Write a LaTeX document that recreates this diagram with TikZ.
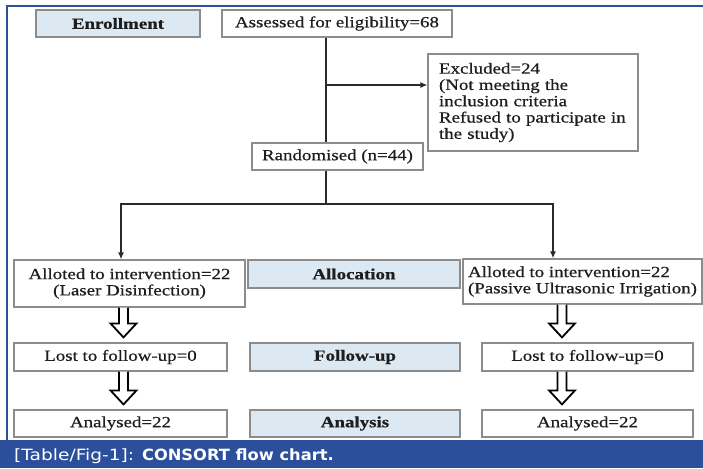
\documentclass[tikz,border=0pt]{standalone}
\usepackage{fontspec}
\setmainfont{Liberation Serif}[FakeStretch=1.22, FakeBold=0.6]
\newfontfamily\capfont{DejaVu Sans}[FakeStretch=1.2]
\newfontfamily\capbfont{DejaVu Sans}[FakeStretch=1.05]
\usetikzlibrary{arrows.meta,calc}
\definecolor{boxline}{HTML}{8C8C8C}
\definecolor{lblue}{HTML}{DCE8F2}
\definecolor{frameblue}{HTML}{2B4F9B}
\definecolor{txt}{HTML}{1E1E1E}
\definecolor{connc}{HTML}{2A2A2A}
\tikzset{
  box/.style={draw=boxline, line width=1.2pt, fill=white, text=txt, inner sep=0pt,
    font=\fontsize{15.5}{16.3}\selectfont},
  stage/.style={box, fill=lblue, font=\fontsize{15.5}{16.3}\selectfont\bfseries},
  conn/.style={draw=connc, line width=1.4pt},
  arr/.style={conn, -{Latex[length=7pt,width=6pt]}},
  harrow/.style={draw=black, line width=1.8pt, fill=white, line join=miter},
}
\newcommand\hollowarr[3]{%
  \filldraw[harrow] let \p1=(#1), \p2=(#2.south), \p3=(#3.north) in
   (\x1-4.5pt,\y2) -- (\x1-4.5pt,\y3+19pt) -- (\x1-13pt,\y3+19pt) -- (\x1,\y3+5pt)
   -- (\x1+13pt,\y3+19pt) -- (\x1+4.5pt,\y3+19pt) -- (\x1+4.5pt,\y2);}
\begin{document}
\begin{tikzpicture}[x=1pt,y=-1pt]
\useasboundingbox (0,0) rectangle (703,468);
\fill[white] (0,0) rectangle (703,468);
% frame and caption band
\draw[frameblue, line width=1.5pt] (7,440) -- (7,6) -- (703,6);
\fill[frameblue] (0,440) rectangle (703,468);
\node[anchor=base west, text=white, inner sep=0pt, font=\capfont\fontsize{15.5}{17}\selectfont] (cap) at (14,460)
  {[Table/Fig-1]: {\capbfont\bfseries CONSORT flow chart.}};
% helper coordinates
\coordinate (sp) at (326,0);
\coordinate (ex) at (326,85);
\coordinate (br) at (326,204);
\coordinate (bl) at (121,204);
\coordinate (bR) at (553,204);
\coordinate (hl) at (123.5,0);
\coordinate (hr) at (562,0);
% nodes
\node[stage, minimum width=164pt, minimum height=27pt] (enr) at (118,23.5) {Enrollment};
\node[box, minimum width=230pt, minimum height=27pt] (ass) at (337,23.5) {Assessed for eligibility=68};
\node[box, text width=188pt, inner xsep=11pt, minimum height=97pt, align=left] (exc) at (533,102.5)
  {Excluded=24\\(Not meeting the\\inclusion criteria\\\makebox[188pt][s]{Refused to participate in}\\the study)};
\node[box, minimum width=171pt, minimum height=27pt] (ran) at (337.5,156.5) {Randomised (n=44)};
\node[box, minimum width=231pt, minimum height=47pt, align=center] (al) at (129.5,283.5)
  {Alloted to intervention=22\\(Laser Disinfection)};
\node[stage, minimum width=212pt, minimum height=28pt] (alc) at (354,274) {Allocation};
\node[box, minimum width=239pt, minimum height=45pt, align=left] (ar) at (582.5,281.5)
  {Alloted to intervention=22\\(Passive Ultrasonic Irrigation)};
\node[box, minimum width=213pt, minimum height=28pt] (ll) at (120.5,357) {Lost to follow-up=0};
\node[stage, minimum width=210pt, minimum height=28pt] (fu) at (355,357) {Follow-up};
\node[box, minimum width=211pt, minimum height=28pt] (lr) at (587.5,357) {Lost to follow-up=0};
\node[box, minimum width=213pt, minimum height=27pt] (anl) at (120.5,423.5) {Analysed=22};
\node[stage, minimum width=210pt, minimum height=27pt] (ana) at (355,423.5) {Analysis};
\node[box, minimum width=211pt, minimum height=27pt] (anr) at (587.5,423.5) {Analysed=22};
% connectors
\draw[conn] (ass.south -| sp) -- (ran.north -| sp);
\draw[arr] (ex) -- (ex -| exc.west);
\draw[conn] (ran.south -| sp) -- (br);
\draw[arr] (br) -- (bl) -- (bl |- al.north);
\draw[arr] (br) -- (bR) -- (bR |- ar.north);
\hollowarr{hl}{al}{ll}
\hollowarr{hl}{ll}{anl}
\hollowarr{hr}{ar}{lr}
\hollowarr{hr}{lr}{anr}
\end{tikzpicture}
\end{document}
